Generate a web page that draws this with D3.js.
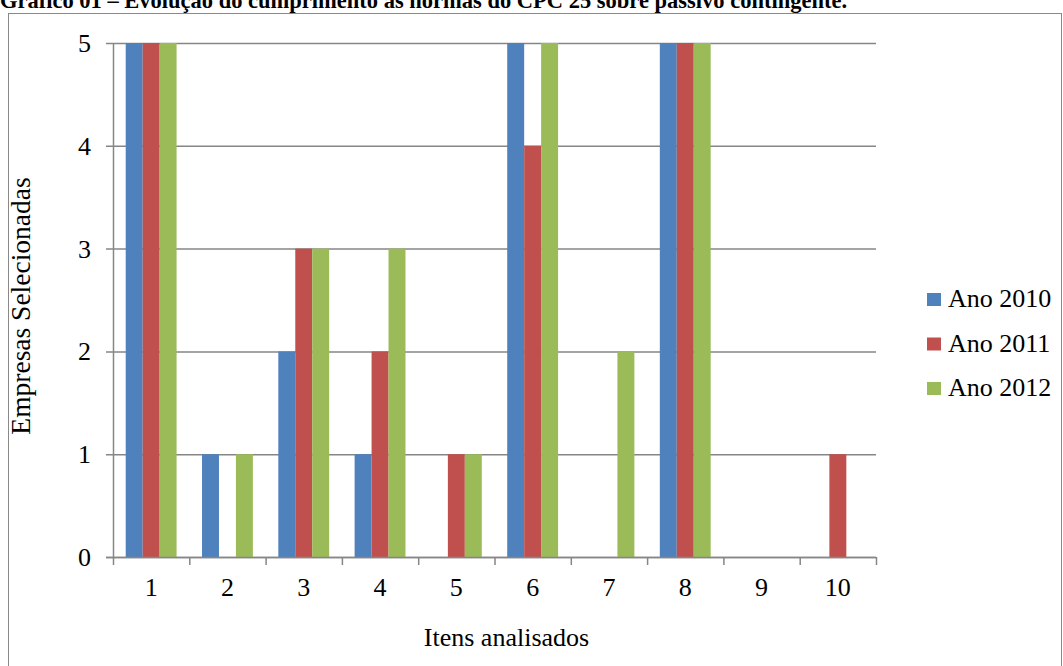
<!DOCTYPE html>
<html><head><meta charset="utf-8">
<script src="https://cdn.jsdelivr.net/npm/d3@7"></script>
<style>html,body{margin:0;padding:0;background:#fff;overflow:hidden}</style>
</head><body>
<svg id="c" width="1063" height="666"></svg>
<script>
const categories = ["1","2","3","4","5","6","7","8","9","10"];
const seriesNames = ["Ano 2010","Ano 2011","Ano 2012"];
const ano2010 = [5,1,2,1,0,5,0,5,0,0];
const ano2011 = [5,0,3,2,1,4,0,5,0,1];
const ano2012 = [5,1,3,3,1,5,2,5,0,0];
const yTicks = [0,1,2,3,4,5];
const colors = ["#4F81BD","#C0504D","#9BBB59"];
const series = [ano2010, ano2011, ano2012];

const svg = d3.select("#c");
const font = "'Liberation Serif','Times New Roman',serif";
const fs = 26;
const L = 113, R = 876, T = 43, B = 557;

// title
svg.append("text").attr("x",0).attr("y",8).attr("font-family",font)
  .attr("font-weight","bold").attr("font-size",22.5)
  .text("Gráfico 01 – Evolução do cumprimento às normas do CPC 25 sobre passivo contingente.");

// border
svg.append("rect").attr("x",8.5).attr("y",13.5).attr("width",1053).attr("height",700)
  .attr("fill","none").attr("stroke","#898989").attr("stroke-width",1);

const x = d3.scaleBand().domain(categories).range([L,R]).paddingInner(0).paddingOuter(0);
const x1 = d3.scaleBand().domain(seriesNames).range([0,x.bandwidth()]).paddingInner(0).paddingOuter(0.75);
const y = d3.scaleLinear().domain([0,5]).range([B,T]);

// gridlines
svg.append("g").selectAll("line").data(yTicks).join("line")
  .attr("x1",L-7).attr("x2",R).attr("y1",d=>y(d)+0.5).attr("y2",d=>y(d)+0.5)
  .attr("stroke","#868686").attr("stroke-width",1.5);

// bars
const g = svg.append("g");
categories.forEach((c,i)=>{
  seriesNames.forEach((s,j)=>{
    const v = series[j][i];
    if(v>0){
      g.append("rect").attr("x",x(c)+x1(s)).attr("width",x1.bandwidth())
        .attr("y",y(v)).attr("height",y(0)-y(v)).attr("fill",colors[j]);
    }
  });
});

// y axis line
svg.append("line").attr("x1",L+0.5).attr("x2",L+0.5).attr("y1",T).attr("y2",B)
  .attr("stroke","#868686").attr("stroke-width",1.5);
// x axis line
svg.append("line").attr("x1",L-7).attr("x2",R).attr("y1",B+0.5).attr("y2",B+0.5)
  .attr("stroke","#868686").attr("stroke-width",1.5);
// x ticks
const tickPos = categories.map(c=>x(c)).concat([R]);
svg.append("g").selectAll("line").data(tickPos).join("line")
  .attr("x1",d=>d+0.5).attr("x2",d=>d+0.5).attr("y1",B).attr("y2",B+8)
  .attr("stroke","#868686").attr("stroke-width",1.5);

// y tick labels
svg.append("g").selectAll("text").data(yTicks).join("text")
  .attr("x",L-22).attr("y",d=>y(d)+9).attr("text-anchor","end")
  .attr("font-family",font).attr("font-size",fs).text(d=>d);

// x tick labels
svg.append("g").selectAll("text").data(categories).join("text")
  .attr("x",d=>x(d)+x.bandwidth()/2).attr("y",B+39).attr("text-anchor","middle")
  .attr("font-family",font).attr("font-size",fs).text(d=>d);

// axis titles
svg.append("text").attr("x",(L+R)/2+12).attr("y",646).attr("text-anchor","middle")
  .attr("font-family",font).attr("font-size",fs).text("Itens analisados");
svg.append("text").attr("transform","translate(30,306) rotate(-90)").attr("text-anchor","middle")
  .attr("font-family",font).attr("font-size",27.5).text("Empresas Selecionadas");

// legend
const lg = svg.append("g");
seriesNames.forEach((s,j)=>{
  const cy = 299 + j*44.5;
  lg.append("rect").attr("x",927).attr("y",cy-6).attr("width",14).attr("height",13).attr("fill",colors[j]);
  lg.append("text").attr("x",948).attr("y",cy+8).attr("font-family",font).attr("font-size",fs).text(s);
});
</script>
</body></html>
